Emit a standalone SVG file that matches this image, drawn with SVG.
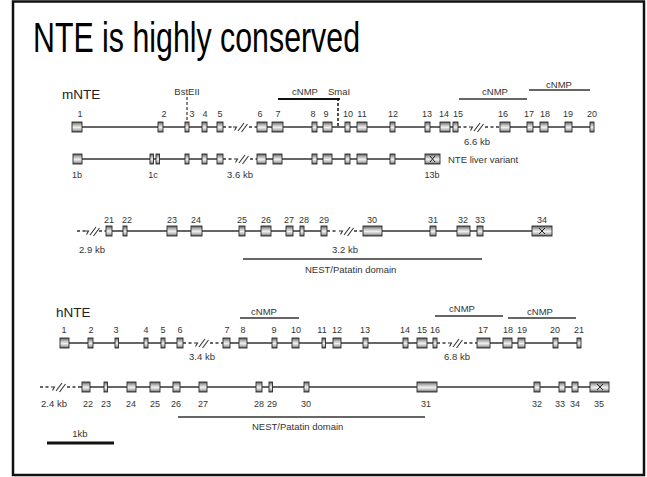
<svg xmlns="http://www.w3.org/2000/svg" width="647" height="477" viewBox="0 0 647 477">
<defs>
<linearGradient id="exg" x1="0" y1="0" x2="0" y2="1">
<stop offset="0" stop-color="#5a5a5a"/>
<stop offset="0.3" stop-color="#bdbdbd"/>
<stop offset="0.55" stop-color="#eeeeee"/>
<stop offset="0.8" stop-color="#b5b5b5"/>
<stop offset="1" stop-color="#505050"/>
</linearGradient>
<g id="brk" fill="none" stroke="#333" stroke-width="1.1">
<path d="M0,0 h3.5 l-2,3.5"/>
<path d="M5,4 L11,-4"/>
<path d="M8.5,5 L14.5,-3"/>
</g>
</defs>
<style>
.ex{fill:url(#exg);stroke:#2a2a2a;stroke-width:0.9}
.ln{stroke:#333;stroke-width:1.5;fill:none}
.dl{stroke:#333;stroke-width:1.5;fill:none;stroke-dasharray:3,2.5}
.bar{stroke:#333;stroke-width:1.3;fill:none}
.t{font-family:"Liberation Sans",Arial,sans-serif;font-size:9.5px;fill:#333;text-anchor:middle}
.n{font-family:"Liberation Sans",Arial,sans-serif;font-size:9px;fill:#333;text-anchor:middle}
.tl{font-family:"Liberation Sans",Arial,sans-serif;font-size:9.5px;fill:#333}
.g{font-family:"Liberation Sans",Arial,sans-serif;font-size:13.5px;fill:#222}
.x{stroke:#222;stroke-width:1;fill:none}
</style>
<rect x="13" y="1.5" width="631" height="473.5" fill="#fff" stroke="#111" stroke-width="2.5"/>
<text x="33" y="52" font-family="Liberation Sans, Arial, sans-serif" font-size="42" textLength="327" lengthAdjust="spacingAndGlyphs" fill="#000">NTE is highly conserved</text>

<g id="connectors">
<path class="ln" d="M77,127 H223" stroke-width="1.2"/>
<path class="dl" d="M223,127 H232 M249,127 H257"/>
<use href="#brk" x="233" y="127"/>
<path class="ln" d="M257,127 H458" stroke-width="1.2"/>
<path class="dl" d="M458,127 H467 M485,127 H500"/>
<use href="#brk" x="469" y="127"/>
<path class="ln" d="M500,127 H592" stroke-width="1.2"/>
<path class="ln" d="M77,159 H223"/>
<path class="dl" d="M223,159 H232 M250,159 H257"/>
<use href="#brk" x="234" y="159"/>
<path class="ln" d="M257,159 H432"/>
<path class="dl" d="M77,231 H85 M99,231 H106"/>
<use href="#brk" x="85" y="231"/>
<path class="ln" d="M106,231 H327" stroke-width="2"/>
<path class="dl" d="M327,231 H338 M354,231 H363"/>
<use href="#brk" x="339" y="231"/>
<path class="ln" d="M363,231 H542" stroke-width="2"/>
<path class="ln" d="M64,343 H183" stroke-width="1.8"/>
<path class="dl" d="M183,343 H192 M210,343 H223"/>
<use href="#brk" x="194" y="343"/>
<path class="ln" d="M223,343 H437" stroke-width="1.8"/>
<path class="dl" d="M437,343 H446 M464,343 H477"/>
<use href="#brk" x="448" y="343"/>
<path class="ln" d="M477,343 H579" stroke-width="1.8"/>
<path class="dl" d="M40,387 H50 M67,387 H78"/>
<use href="#brk" x="51" y="387"/>
<path class="ln" d="M78,387 H600"/>
<path d="M187,97 V122" stroke="#333" stroke-width="1.2" stroke-dasharray="3,2" fill="none"/>
<path d="M338,98 V127" stroke="#222" stroke-width="1.6" stroke-dasharray="3,2" fill="none"/>
</g>

<g id="domains">
<path d="M278,99 H340" stroke="#111" stroke-width="2.2"/>
<path class="bar" d="M459,99 H527"/>
<path class="bar" d="M529,90 H590"/>
<path class="bar" d="M243,259 H482"/>
<path class="bar" d="M240,318 H299"/>
<path class="bar" d="M435,316 H503"/>
<path class="bar" d="M508,318 H576"/>
<path class="bar" d="M178,417 H425"/>
<path d="M47,443 H114" stroke="#111" stroke-width="3"/>
<text class="t" x="305" y="95">cNMP</text>
<text class="t" x="495" y="95">cNMP</text>
<text class="t" x="559" y="88">cNMP</text>
<text class="t" x="264" y="315">cNMP</text>
<text class="t" x="462" y="312">cNMP</text>
<text class="t" x="540" y="315">cNMP</text>
<text class="tl" x="305" y="273">NEST/Patatin domain</text>
<text class="tl" x="252" y="430">NEST/Patatin domain</text>
<text class="t" x="80" y="437">1kb</text>
<text class="t" x="187" y="95">BstEII</text>
<text class="t" x="339" y="95">SmaI</text>
</g>

<g id="labels">
<text class="g" x="62" y="99">mNTE</text>
<text class="g" x="56" y="317">hNTE</text>
<text class="tl" x="448" y="163">NTE liver variant</text>
<text class="t" x="240" y="178">3.6 kb</text>
<text class="t" x="477" y="145">6.6 kb</text>
<text class="t" x="92" y="253">2.9 kb</text>
<text class="t" x="345" y="253">3.2 kb</text>
<text class="t" x="202" y="360">3.4 kb</text>
<text class="t" x="457" y="360">6.8 kb</text>
<text class="t" x="54" y="407">2.4 kb</text>
</g>

<g id="mNTE-row1">
<rect class="ex" x="72" y="122" width="10" height="10"/>
<rect class="ex" x="158" y="122" width="5" height="10"/>
<rect class="ex" x="185" y="122" width="4" height="10"/>
<rect class="ex" x="202" y="122" width="5" height="10"/>
<rect class="ex" x="217" y="122" width="6" height="10"/>
<rect class="ex" x="257" y="122" width="10" height="10"/>
<rect class="ex" x="272" y="122" width="11" height="10"/>
<rect class="ex" x="312" y="122" width="5" height="10"/>
<rect class="ex" x="323" y="122" width="9" height="10"/>
<rect class="ex" x="345" y="122" width="5" height="10"/>
<rect class="ex" x="357" y="122" width="10" height="10"/>
<rect class="ex" x="390" y="122" width="5" height="10"/>
<rect class="ex" x="425" y="122" width="5" height="10"/>
<rect class="ex" x="440" y="122" width="10" height="10"/>
<rect class="ex" x="453" y="122" width="5" height="10"/>
<rect class="ex" x="500" y="122" width="10" height="10"/>
<rect class="ex" x="527" y="122" width="6" height="10"/>
<rect class="ex" x="540" y="122" width="8" height="10"/>
<rect class="ex" x="565" y="122" width="7" height="10"/>
<rect class="ex" x="590" y="122" width="4" height="10"/>
<text class="n" x="80" y="117">1</text>
<text class="n" x="164" y="117">2</text>
<text class="n" x="192" y="117">3</text>
<text class="n" x="205" y="117">4</text>
<text class="n" x="220" y="117">5</text>
<text class="n" x="260" y="117">6</text>
<text class="n" x="278" y="117">7</text>
<text class="n" x="313" y="117">8</text>
<text class="n" x="326" y="117">9</text>
<text class="n" x="348" y="117">10</text>
<text class="n" x="362" y="117">11</text>
<text class="n" x="393" y="117">12</text>
<text class="n" x="427" y="117">13</text>
<text class="n" x="444" y="117">14</text>
<text class="n" x="458" y="117">15</text>
<text class="n" x="503" y="117">16</text>
<text class="n" x="529" y="117">17</text>
<text class="n" x="545" y="117">18</text>
<text class="n" x="568" y="117">19</text>
<text class="n" x="592" y="117">20</text>
</g>

<g id="mNTE-variant">
<rect class="ex" x="73" y="154" width="9" height="10"/>
<rect class="ex" x="150" y="154" width="3.5" height="10"/>
<rect class="ex" x="156" y="154" width="3.5" height="10"/>
<rect class="ex" x="185" y="154" width="4" height="10"/>
<rect class="ex" x="202" y="154" width="5" height="10"/>
<rect class="ex" x="217" y="154" width="6" height="10"/>
<rect class="ex" x="257" y="154" width="9" height="10"/>
<rect class="ex" x="273" y="154" width="9" height="10"/>
<rect class="ex" x="312" y="154" width="5" height="10"/>
<rect class="ex" x="323" y="154" width="9" height="10"/>
<rect class="ex" x="345" y="154" width="5" height="10"/>
<rect class="ex" x="357" y="154" width="10" height="10"/>
<rect class="ex" x="390" y="154" width="5" height="10"/>
<rect class="ex" x="425" y="154" width="15" height="10"/>
<path class="x" d="M430,156 L435,162 M435,156 L430,162"/>
<text class="n" x="77" y="178">1b</text>
<text class="n" x="153" y="178">1c</text>
<text class="n" x="432" y="178">13b</text>
</g>

<g id="mNTE-row3">
<rect class="ex" x="106" y="226" width="6" height="10"/>
<rect class="ex" x="123" y="226" width="4" height="10"/>
<rect class="ex" x="167" y="226" width="10" height="10"/>
<rect class="ex" x="191" y="226" width="11" height="10"/>
<rect class="ex" x="239" y="226" width="6" height="10"/>
<rect class="ex" x="261" y="226" width="10" height="10"/>
<rect class="ex" x="286" y="226" width="7" height="10"/>
<rect class="ex" x="300" y="226" width="4" height="10"/>
<rect class="ex" x="321" y="226" width="6" height="10"/>
<rect class="ex" x="363" y="226" width="19" height="10"/>
<rect class="ex" x="430" y="226" width="6" height="10"/>
<rect class="ex" x="457" y="226" width="13" height="10"/>
<rect class="ex" x="477" y="226" width="6" height="10"/>
<rect class="ex" x="532" y="226" width="20" height="10"/>
<path class="x" d="M539,228 L545,234 M545,228 L539,234"/>
<text class="n" x="109" y="223">21</text>
<text class="n" x="127" y="223">22</text>
<text class="n" x="172" y="223">23</text>
<text class="n" x="196" y="223">24</text>
<text class="n" x="242" y="223">25</text>
<text class="n" x="266" y="223">26</text>
<text class="n" x="289" y="223">27</text>
<text class="n" x="304" y="223">28</text>
<text class="n" x="324" y="223">29</text>
<text class="n" x="372" y="223">30</text>
<text class="n" x="433" y="223">31</text>
<text class="n" x="463" y="223">32</text>
<text class="n" x="480" y="223">33</text>
<text class="n" x="542" y="223">34</text>
</g>

<g id="hNTE-row1">
<rect class="ex" x="60" y="338" width="9" height="10"/>
<rect class="ex" x="88" y="338" width="5" height="10"/>
<rect class="ex" x="115" y="338" width="3.5" height="10"/>
<rect class="ex" x="144" y="338" width="4" height="10"/>
<rect class="ex" x="161" y="338" width="4" height="10"/>
<rect class="ex" x="177" y="338" width="6" height="10"/>
<rect class="ex" x="223" y="338" width="7" height="10"/>
<rect class="ex" x="239" y="338" width="8" height="10"/>
<rect class="ex" x="272" y="338" width="5" height="10"/>
<rect class="ex" x="292" y="338" width="7" height="10"/>
<rect class="ex" x="322" y="338" width="3.5" height="10"/>
<rect class="ex" x="333" y="338" width="8" height="10"/>
<rect class="ex" x="363" y="338" width="5" height="10"/>
<rect class="ex" x="403" y="338" width="5" height="10"/>
<rect class="ex" x="417" y="338" width="10" height="10"/>
<rect class="ex" x="433" y="338" width="4" height="10"/>
<rect class="ex" x="477" y="338" width="13" height="10"/>
<rect class="ex" x="503" y="338" width="9" height="10"/>
<rect class="ex" x="518" y="338" width="7" height="10"/>
<rect class="ex" x="553" y="338" width="5" height="10"/>
<rect class="ex" x="577" y="338" width="4" height="10"/>
<text class="n" x="64" y="333">1</text>
<text class="n" x="91" y="333">2</text>
<text class="n" x="116" y="333">3</text>
<text class="n" x="146" y="333">4</text>
<text class="n" x="163" y="333">5</text>
<text class="n" x="180" y="333">6</text>
<text class="n" x="227" y="333">7</text>
<text class="n" x="243" y="333">8</text>
<text class="n" x="274" y="333">9</text>
<text class="n" x="296" y="333">10</text>
<text class="n" x="322" y="333">11</text>
<text class="n" x="337" y="333">12</text>
<text class="n" x="365" y="333">13</text>
<text class="n" x="405" y="333">14</text>
<text class="n" x="422" y="333">15</text>
<text class="n" x="435" y="333">16</text>
<text class="n" x="483" y="333">17</text>
<text class="n" x="508" y="333">18</text>
<text class="n" x="522" y="333">19</text>
<text class="n" x="555" y="333">20</text>
<text class="n" x="579" y="333">21</text>
</g>

<g id="hNTE-row2">
<rect class="ex" x="82" y="382" width="8" height="10"/>
<rect class="ex" x="104" y="382" width="3.5" height="10"/>
<rect class="ex" x="127" y="382" width="9" height="10"/>
<rect class="ex" x="150" y="382" width="10" height="10"/>
<rect class="ex" x="173" y="382" width="7" height="10"/>
<rect class="ex" x="199" y="382" width="8" height="10"/>
<rect class="ex" x="256" y="382" width="6" height="10"/>
<rect class="ex" x="269" y="382" width="3.5" height="10"/>
<rect class="ex" x="304" y="382" width="5" height="10"/>
<rect class="ex" x="417" y="382" width="20" height="10"/>
<rect class="ex" x="534" y="382" width="6" height="10"/>
<rect class="ex" x="559" y="382" width="6" height="10"/>
<rect class="ex" x="572" y="382" width="6" height="10"/>
<rect class="ex" x="590" y="382" width="19" height="10"/>
<path class="x" d="M597,384 L603,390 M603,384 L597,390"/>
<text class="n" x="88" y="407">22</text>
<text class="n" x="106" y="407">23</text>
<text class="n" x="131" y="407">24</text>
<text class="n" x="155" y="407">25</text>
<text class="n" x="176" y="407">26</text>
<text class="n" x="203" y="407">27</text>
<text class="n" x="259" y="407">28</text>
<text class="n" x="272" y="407">29</text>
<text class="n" x="306" y="407">30</text>
<text class="n" x="426" y="407">31</text>
<text class="n" x="537" y="407">32</text>
<text class="n" x="560" y="407">33</text>
<text class="n" x="575" y="407">34</text>
<text class="n" x="599" y="407">35</text>
</g>
</svg>
